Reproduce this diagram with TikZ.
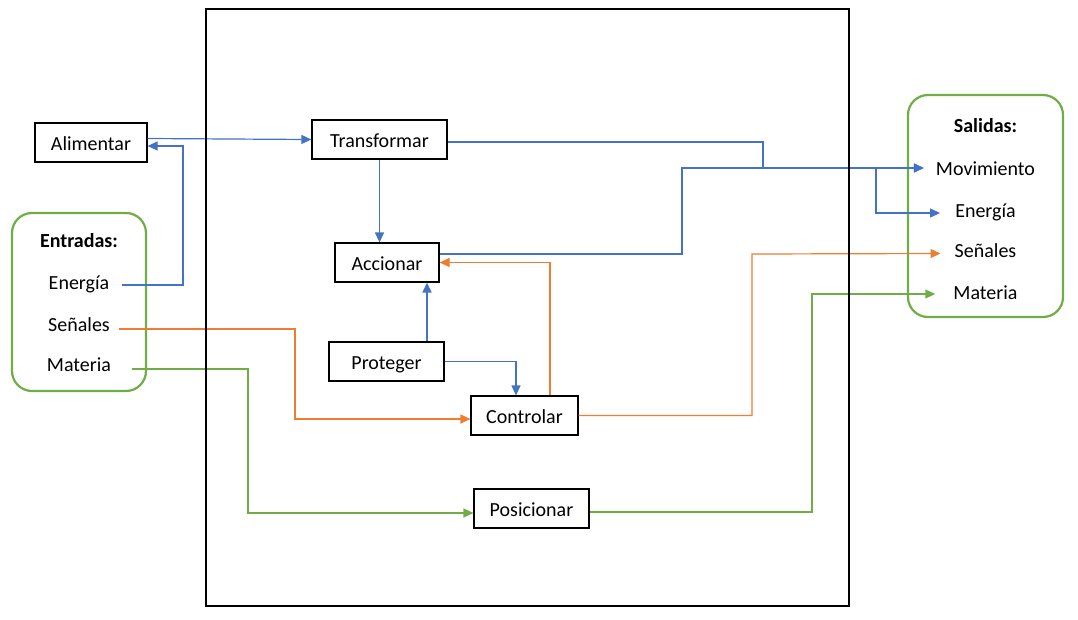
\documentclass[tikz,border=0pt]{standalone}
\usepackage{fontspec}
\setmainfont{Carlito}
\usetikzlibrary{arrows.meta,positioning}
\definecolor{azul}{RGB}{68,114,196}
\definecolor{naranja}{RGB}{237,125,49}
\definecolor{verde}{RGB}{112,173,71}
\tikzset{
    %Define standard arrow tip
    >={Triangle[length=10pt,width=9pt]},
    %Define style for boxes
    bloque/.style={
           rectangle,
           draw=black, line width=1.2pt,
           inner sep=0pt,
           minimum height=39pt,
           text height=15pt,
           text depth=0pt,
           font=\fontsize{20}{24}\selectfont,
           text centered},
    grupo/.style={
           rectangle,
           rounded corners=20pt,
           draw=verde, line width=2.2pt},
    etiqueta/.style={
           anchor=base,
           inner sep=0pt,
           text height=13pt,
           text depth=5pt,
           font=\fontsize{20}{24}\selectfont},
    titulo/.style={
           etiqueta,
           font=\fontsize{20}{24}\selectfont\bfseries},
    marcobox/.style={
           rectangle,
           draw=black, line width=2.2pt,
           inner sep=0pt},
    % Define arrow style
    flujo/.style={
           ->,
           line width=1.2pt}
}
\begin{document}
\begin{tikzpicture}[x=1pt,y=-1pt]
\useasboundingbox (0,0) rectangle (1078,619);
% grupos de entradas y salidas
\node[grupo, minimum width=134pt, minimum height=178pt](entradas) at (79,302){};
\node[grupo, minimum width=155pt, minimum height=222pt](salidas) at (985.5,206){};
\node[titulo](tEnt) at (79,247.5){Entradas:};
\node[etiqueta](eEne) at (79,289){Energía};
\node[etiqueta](eSen) at (79,331){Señales};
\node[etiqueta](eMat) at (79,371.5){Materia};
\node[titulo](tSal) at (985.5,132.5){Salidas:};
\node[etiqueta](sMov) at (985.5,175){Movimiento};
\node[etiqueta](sEne) at (985.5,217){Energía};
\node[etiqueta](sSen) at (985.5,257.5){Señales};
\node[etiqueta](sMat) at (985.5,299.5){Materia};
% funciones
\node[bloque, minimum width=112pt](Alimentar) at (91,142.5){Alimentar};
\node[bloque, minimum width=135pt](Transformar) at (379.5,139.5){Transformar};
\node[bloque, minimum width=104pt](Accionar) at (387,262.5){Accionar};
\node[bloque, minimum width=115pt](Proteger) at (386.5,361.5){Proteger};
\node[bloque, minimum width=107pt](Controlar) at (524.5,415.5){Controlar};
\node[bloque, minimum width=115pt](Posicionar) at (531.5,508.5){Posicionar};
% codos
\coordinate (cEne) at (183,146);
\coordinate (cSen) at (295,419);
\coordinate (cMat) at (248,513);
\coordinate (cTra) at (763,168);
\coordinate (cAcc) at (682,168);
\coordinate (rama) at (876,168);
\coordinate (cCon) at (752,254);
\coordinate (cPos) at (812,294);
\coordinate (pProt) at ([xshift=40.5pt]Proteger.north);
\coordinate (pCon) at ([xshift=25.5pt]Controlar.north);
% flujos
\draw[flujo, azul] ([yshift=4pt]Alimentar.east) -- (Transformar.west);
\draw[flujo, azul] ([xshift=13pt]eEne.east) -| (cEne) -- ([yshift=-3.5pt]Alimentar.east);
\draw[flujo, naranja] ([xshift=9pt,yshift=-2pt]eSen.east) -| (cSen) -- ([yshift=-3.5pt]Controlar.west);
\draw[flujo, verde] ([xshift=21pt,yshift=-1.5pt]eMat.east) -| (cMat) -- ([yshift=-4.5pt]Posicionar.west);
\draw[flujo, azul] (Transformar.south) -- (Transformar.south |- Accionar.north);
\draw[flujo, azul] ([yshift=-2.5pt]Transformar.east) -| (cTra) -- ([xshift=-12pt,yshift=3pt]sMov.west);
\draw[flujo, azul] ([yshift=8.5pt]Accionar.east) -| (cAcc) -- ([xshift=-12pt,yshift=3pt]sMov.west);
\draw[flujo, azul] (rama) |- ([xshift=-15pt]sEne.west);
\draw[flujo, azul, line width=1.8pt] (pProt) -- (pProt |- Accionar.south);
\draw[flujo, azul] (Proteger.east) -| ([xshift=-8.5pt]Controlar.north);
\draw[flujo, naranja] (pCon) |- (Accionar.east);
\draw[flujo, naranja] (Controlar.east) -| (cCon) -- ([xshift=-14pt]sSen.west);
\draw[flujo, verde] ([yshift=-3.5pt]Posicionar.east) -| (cPos) -- ([xshift=-18pt,yshift=1.5pt]sMat.west);
% sistema
\node[marcobox, minimum width=643pt, minimum height=597pt](marco) at (527.5,307.5){};
\end{tikzpicture}
\end{document}
